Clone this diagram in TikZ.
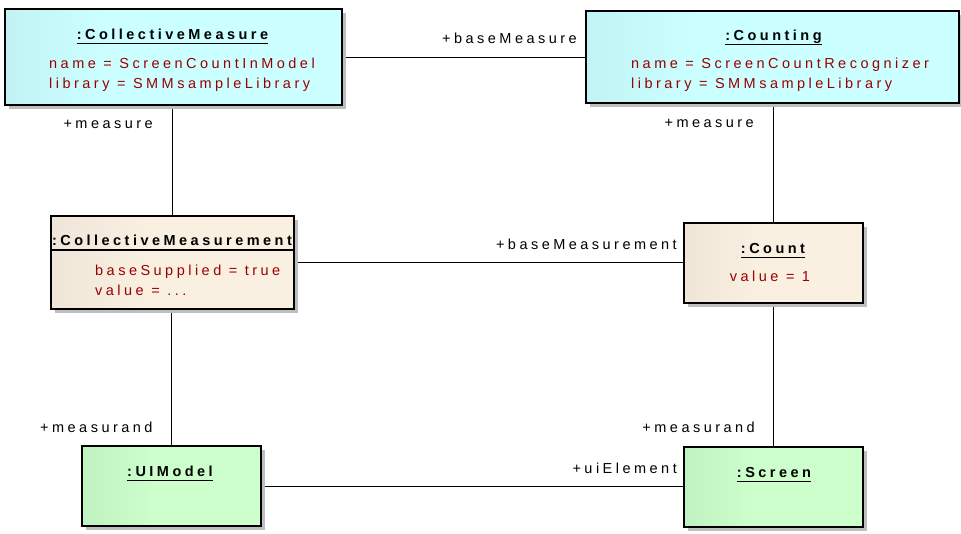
\documentclass[tikz,border=0pt]{standalone}
\usepackage{fontspec}
\setmainfont{Liberation Sans}
\newfontfamily\spaced{Liberation Sans}[LetterSpace=24]
\usetikzlibrary{shadows}

\definecolor{cyanL}{RGB}{176,224,228}
\definecolor{cyanR}{RGB}{204,255,255}
\definecolor{beigeL}{RGB}{224,216,203}
\definecolor{beigeR}{RGB}{250,240,226}
\definecolor{greenL}{RGB}{178,226,180}
\definecolor{greenR}{RGB}{204,255,204}
\definecolor{attr}{RGB}{153,0,0}
\definecolor{shadowgray}{RGB}{190,190,190}

\pgfdeclarehorizontalshading{cyanshade}{100bp}{color(0bp)=(cyanL); color(40bp)=(cyanR); color(100bp)=(cyanR)}
\pgfdeclarehorizontalshading{beigeshade}{100bp}{color(0bp)=(beigeL); color(45bp)=(beigeR); color(100bp)=(beigeR)}
\pgfdeclarehorizontalshading{greenshade}{100bp}{color(0bp)=(greenL); color(45bp)=(greenR); color(100bp)=(greenR)}

\tikzset{
  objbox/.style={draw=black, line width=1.2pt, rectangle, inner sep=0pt,
    drop shadow={shadow xshift=4pt, shadow yshift=-4pt, fill=shadowgray, opacity=1}},
  measurebox/.style={objbox, shade, shading=cyanshade},
  databox/.style={objbox, shade, shading=beigeshade},
  uibox/.style={objbox, shade, shading=greenshade},
  title/.style={inner sep=0pt, font=\fontsize{14.5}{16}\selectfont\spaced\bfseries},
  attrtext/.style={inner sep=0pt, text=attr, font=\fontsize{14.5}{16}\selectfont\spaced},
  role/.style={inner sep=0pt, font=\fontsize{14.5}{16}\selectfont\spaced},
  uline/.style={line width=1pt},
  link/.style={draw=black, line width=0.9pt}
}

\begin{document}
\begin{tikzpicture}[x=1pt, y=-1pt]
\useasboundingbox (0,0) rectangle (961,533);

% connectors first, boxes drawn on top
\coordinate (c1) at (172,57);
\coordinate (c2) at (773.5,57);
\coordinate (c3) at (172,262);
\coordinate (c4) at (773.5,262);
\coordinate (c5) at (171,486);
\coordinate (c6) at (773.5,486);
\draw[link] (c1) -- (c2);
\draw[link] (c3) -- (c4);
\draw[link] (c5) -- (c6);
\draw[link] (c1) -- (c3);
\draw[link] (c2) -- (c4);
\draw[link] (c3 -| c5) -- (c5);
\draw[link] (c4) -- (c6);

% object boxes
\node[measurebox, minimum width=337pt, minimum height=96pt] (cm) at (173.5,57) {};
\node[measurebox, minimum width=373pt, minimum height=92pt] (cnt) at (772.5,57) {};
\node[databox, minimum width=243pt, minimum height=93pt] (cmt) at (172.5,262.5) {};
\node[databox, minimum width=179pt, minimum height=80pt] (count) at (773.5,263) {};
\node[uibox, minimum width=179pt, minimum height=80pt] (uim) at (171.5,486) {};
\node[uibox, minimum width=179pt, minimum height=80pt] (scr) at (773.5,487) {};

% :CollectiveMeasure
\node[title, anchor=base] (cmT) at (172.5,39) {:CollectiveMeasure};
\draw[uline] ([yshift=-4pt]cmT.base west) -- ([yshift=-4pt]cmT.base east);
\node[attrtext, anchor=base west] (cmA1) at (49,68) {name = ScreenCountInModel};
\node[attrtext, anchor=base west] (cmA2) at (49,88) {library = SMMsampleLibrary};

% :Counting
\node[title, anchor=base] (cntT) at (773.5,40) {:Counting};
\draw[uline] ([yshift=-4pt]cntT.base west) -- ([yshift=-4pt]cntT.base east);
\node[attrtext, anchor=base west] (cntA1) at (631,68) {name = ScreenCountRecognizer};
\node[attrtext, anchor=base west] (cntA2) at (631,88) {library = SMMsampleLibrary};

% :CollectiveMeasurement
\node[title, anchor=base] (cmtT) at (172,245) {:CollectiveMeasurement};
\draw[line width=1.2pt] (cmt.west |- 0,250) -- (cmt.east |- 0,250);
\node[attrtext, anchor=base west] (cmtA1) at (95,275) {baseSupplied = true};
\node[attrtext, anchor=base west] (cmtA2) at (95,295) {value = ...};

% :Count
\node[title, anchor=base] (countT) at (773,253) {:Count};
\draw[uline] ([yshift=-4pt]countT.base west) -- ([yshift=-4pt]countT.base east);
\node[attrtext, anchor=base] (countA) at (770,281) {value = 1};

% :UIModel
\node[title, anchor=base] (uimT) at (170,476) {:UIModel};
\draw[uline] ([yshift=-4pt]uimT.base west) -- ([yshift=-4pt]uimT.base east);

% :Screen
\node[title, anchor=base] (scrT) at (774,477) {:Screen};
\draw[uline] ([yshift=-4pt]scrT.base west) -- ([yshift=-4pt]scrT.base east);

% association end roles
\node[role, anchor=base east] (r1) at (577,43) {+baseMeasure};
\node[role, anchor=base east] (r2) at (677,249) {+baseMeasurement};
\node[role, anchor=base east] (r3) at (677,473) {+uiElement};
\node[role, anchor=base west] (r4) at (40,432) {+measurand};
\node[role, anchor=base east] (r5) at (755,432) {+measurand};
\node[role, anchor=base east] (r6) at (153,128) {+measure};
\node[role, anchor=base east] (r7) at (754,127) {+measure};
\end{tikzpicture}
\end{document}
